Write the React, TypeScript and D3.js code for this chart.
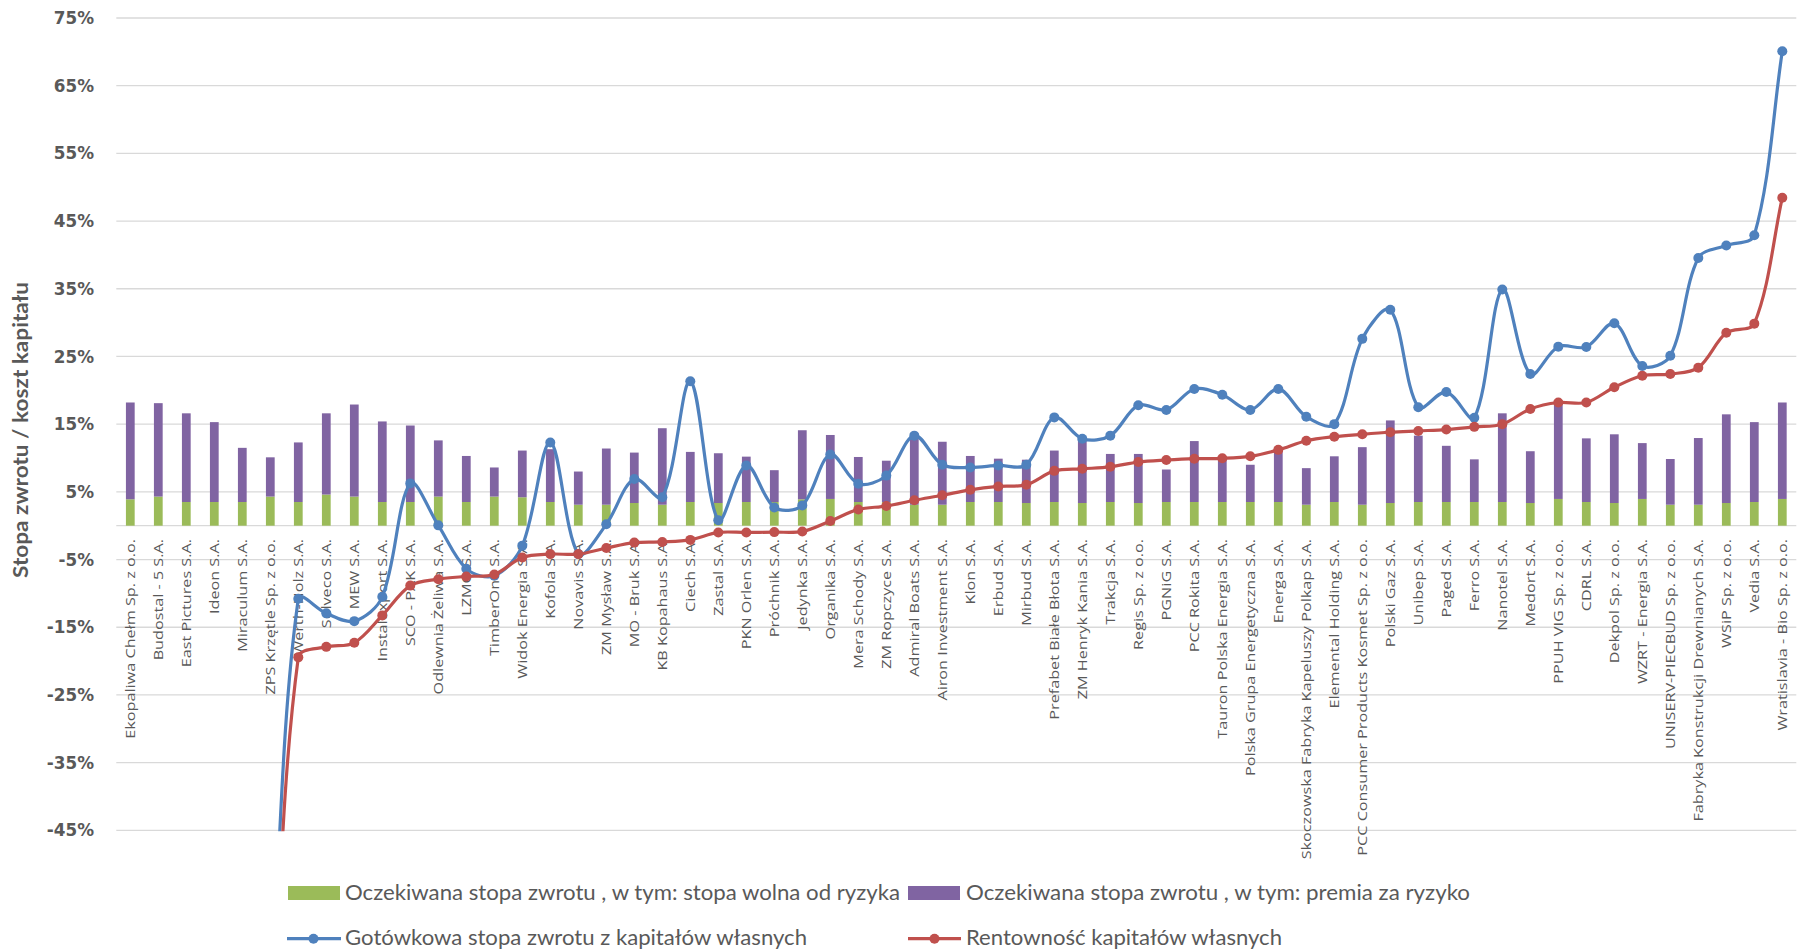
import React from "react";
import * as d3 from "d3";

const categories: string[] = [
  "Ekopaliwa Chełm Sp. z o.o.", "Budostal - 5 S.A.", "East Pictures S.A.", "Ideon S.A.", "Miraculum S.A.",
  "ZPS Krzętle Sp. z o.o.", "Werth-Holz S.A.", "Solveco S.A.", "MEW S.A.", "Instalexport S.A.",
  "SCO - PAK S.A.", "Odlewnia Żeliwa S.A.", "LZMO S.A.", "TimberOne S.A.", "Widok Energia S.A.",
  "Kofola S.A.", "Novavis S.A.", "ZM Mysław S.A.", "MO - Bruk S.A.", "KB Kopahaus S.A.",
  "Ciech S.A.", "Zastal S.A.", "PKN Orlen S.A.", "Próchnik S.A.", "Jedynka S.A.",
  "Organika S.A.", "Mera Schody S.A.", "ZM Ropczyce S.A.", "Admiral Boats S.A.", "Airon Investment S.A.",
  "Klon S.A.", "Erbud S.A.", "Mirbud S.A.", "Prefabet Białe Błota S.A.", "ZM Henryk Kania S.A.",
  "Trakcja S.A.", "Regis Sp. z o.o.", "PGNiG S.A.", "PCC Rokita S.A.", "Tauron Polska Energia S.A.",
  "Polska Grupa Energetyczna S.A.", "Energa S.A.", "Skoczowska Fabryka Kapeluszy Polkap S.A.", "Elemental Holding S.A.", "PCC Consumer Products Kosmet Sp. z o.o.",
  "Polski Gaz S.A.", "Unibep S.A.", "Paged S.A.", "Ferro S.A.", "Nanotel S.A.",
  "Medort S.A.", "PPUH VIG Sp. z o.o.", "CDRL S.A.", "Dekpol Sp. z o.o.", "WZRT - Energia S.A.",
  "UNISERV-PIECBUD Sp. z o.o.", "Fabryka Konstrukcji Drewnianych S.A.", "WSiP Sp. z o.o.", "Vedia S.A.", "Wratislavia - Bio Sp. z o.o.",
];

// Oczekiwana stopa zwrotu, w tym: stopa wolna od ryzyka (%)
const riskFree: number[] = [
  3.9, 4.3, 3.5, 3.5, 3.5, 4.3, 3.5, 4.6, 4.3, 3.5,
  3.5, 4.3, 3.5, 4.3, 4.2, 3.5, 3.1, 3.1, 3.35, 3.1,
  3.5, 3.35, 3.5, 3.5, 3.9, 3.95, 3.5, 3.5, 3.1, 3.1,
  3.5, 3.5, 3.35, 3.5, 3.35, 3.5, 3.35, 3.5, 3.5, 3.5,
  3.5, 3.5, 3.1, 3.5, 3.1, 3.35, 3.5, 3.5, 3.5, 3.5,
  3.35, 3.95, 3.5, 3.35, 3.95, 3.1, 3.1, 3.35, 3.5, 3.95,
];

// Oczekiwana stopa zwrotu, w tym: premia za ryzyko (%)
const riskPremium: number[] = [
  14.3, 13.8, 13.1, 11.8, 8.0, 5.8, 8.8, 12.0, 13.6, 11.9,
  11.3, 8.3, 6.8, 4.3, 6.9, 7.8, 4.9, 8.3, 7.45, 11.3,
  7.4, 7.35, 6.7, 4.7, 10.2, 9.45, 6.65, 6.1, 10.1, 9.3,
  6.8, 6.4, 6.4, 7.6, 9.45, 7.1, 7.25, 4.8, 9.0, 6.6,
  5.5, 7.8, 5.4, 6.75, 8.5, 12.2, 9.8, 8.3, 6.3, 13.1,
  7.65, 14.25, 9.4, 10.15, 8.25, 6.75, 9.85, 13.1, 11.8, 14.25,
];

// Gotówkowa stopa zwrotu z kapitałów własnych (%)
const cashReturn: (number | null)[] = [
  null, null, null, null, null, -72, -10.8, -12.95, -14.1, -10.5,
  6.25, 0.05, -6.35, -7.4, -2.95, 12.3, -4.2, 0.2, 6.9, 4.2,
  21.35, 0.8, 8.9, 2.7, 3.0, 10.5, 6.2, 7.4, 13.3, 9.0,
  8.6, 8.9, 9.0, 16.0, 12.85, 13.3, 17.8, 17.1, 20.2, 19.35,
  17.1, 20.2, 16.1, 15.0, 27.6, 31.9, 17.5, 19.75, 15.95, 34.9,
  22.4, 26.45, 26.4, 29.9, 23.6, 25.1, 39.55, 41.4, 42.9, 70.1,
];

// Rentowność kapitałów własnych (%)
const roe: (number | null)[] = [
  null, null, null, null, null, -80, -19.45, -17.9, -17.3, -13.25,
  -8.85, -7.9, -7.5, -7.2, -4.7, -4.2, -4.2, -3.3, -2.5, -2.4,
  -2.1, -1.0, -1.0, -0.95, -0.85, 0.7, 2.4, 2.9, 3.75, 4.5,
  5.3, 5.8, 6.05, 8.1, 8.4, 8.7, 9.4, 9.7, 9.9, 9.95,
  10.25, 11.2, 12.55, 13.15, 13.5, 13.8, 14.0, 14.2, 14.6, 15.0,
  17.25, 18.2, 18.2, 20.45, 22.15, 22.4, 23.35, 28.5, 29.85, 48.45,
];

const yTicks: number[] = [75, 65, 55, 45, 35, 25, 15, 5, -5, -15, -25, -35, -45];

const legendLabels: string[] = [
  "Oczekiwana stopa zwrotu , w tym: stopa wolna od ryzyka",
  "Oczekiwana stopa zwrotu , w tym: premia za ryzyko",
  "Gotówkowa stopa zwrotu z kapitałów własnych",
  "Rentowność kapitałów własnych",
];

const C_GREEN = "#9BBB59";
const C_PURPLE = "#8064A2";
const C_BLUE = "#4F81BD";
const C_RED = "#C0504D";
const C_GRID = "#D9D9D9";
const C_TEXT = "#595959";

const W = 1798;
const H = 951;
const PLOT = { left: 116.3, right: 1796.3, top: 18, bottom: 830.3 };
const MARKER_R = 5;
const LINE_W = 3.2;

type Pt = [number, number];

// Smoothed line in the style of spreadsheet "smooth line": Catmull-Rom tangents,
// control-point distances scaled by neighbouring segment lengths.
function smoothPath(pts: Pt[]): string {
  const p = d3.path();
  const n = pts.length;
  if (n === 0) return "";
  p.moveTo(pts[0][0], pts[0][1]);
  if (n === 1) return p.toString();
  const dist = (a: Pt, b: Pt) => Math.hypot(b[0] - a[0], b[1] - a[1]);
  const outC: Pt[] = [];
  const inC: Pt[] = [];
  for (let i = 0; i < n; i++) {
    const prev = i > 0 ? pts[i - 1] : pts[i];
    const next = i < n - 1 ? pts[i + 1] : pts[i];
    const dIn = dist(prev, pts[i]);
    const dOut = dist(pts[i], next);
    const s = dIn + dOut || 1;
    const tx = next[0] - prev[0];
    const ty = next[1] - prev[1];
    outC[i] = [pts[i][0] + (tx * dOut) / s / 3, pts[i][1] + (ty * dOut) / s / 3];
    inC[i] = [pts[i][0] - (tx * dIn) / s / 3, pts[i][1] - (ty * dIn) / s / 3];
  }
  for (let i = 0; i < n - 1; i++) {
    p.bezierCurveTo(outC[i][0], outC[i][1], inC[i + 1][0], inC[i + 1][1], pts[i + 1][0], pts[i + 1][1]);
  }
  return p.toString();
}

export default function App() {
  const x = d3.scaleBand<string>().domain(categories).range([PLOT.left, PLOT.right]).padding(0);
  const y = d3.scaleLinear().domain([-45, 75]).range([PLOT.bottom, PLOT.top]);
  const bw = x.bandwidth() * 0.3125;
  const cx = (i: number) => (x(categories[i]) as number) + x.bandwidth() / 2;

  const mkLine = (vals: (number | null)[]) => {
    const runs: Pt[][] = [];
    let cur: Pt[] = [];
    vals.forEach((v, i) => {
      if (v === null) {
        if (cur.length) runs.push(cur);
        cur = [];
      } else {
        cur.push([cx(i), y(v)]);
      }
    });
    if (cur.length) runs.push(cur);
    return runs.map(smoothPath).join(" ");
  };

  const series = [
    { vals: cashReturn, color: C_BLUE },
    { vals: roe, color: C_RED },
  ];

  const legendFont = "Lato, 'Open Sans', sans-serif";

  return (
    <svg
      width={W}
      height={H}
      style={{ position: "absolute", left: 0, top: 0, background: "#fff" }}
      xmlns="http://www.w3.org/2000/svg"
    >
      <defs>
        <clipPath id="plotClip">
          <rect x={PLOT.left - 10} y={PLOT.top - 10} width={PLOT.right - PLOT.left + 20} height={PLOT.bottom - PLOT.top + 11} />
        </clipPath>
      </defs>
      <rect x={0} y={0} width={W} height={H} fill="#fff" />

      {yTicks.map((t) => (
        <line key={"g" + t} x1={PLOT.left} x2={PLOT.right} y1={y(t)} y2={y(t)} stroke={C_GRID} strokeWidth={1.3} />
      ))}
      <line x1={PLOT.left} x2={PLOT.right} y1={y(0)} y2={y(0)} stroke={C_GRID} strokeWidth={1.3} />

      {yTicks.map((t) => (
        <text
          key={"t" + t}
          x={94}
          y={y(t)}
          dy="0.36em"
          textAnchor="end"
          fontFamily="'DejaVu Sans', Verdana, sans-serif"
          fontWeight="bold"
          fontSize={16.8}
          fill={C_TEXT}
        >
          {t + "%"}
        </text>
      ))}

      <text
        transform={`translate(21,430) rotate(-90)`}
        textAnchor="middle"
        dy="0.35em"
        fontFamily={legendFont}
        fontWeight="bold"
        fontSize={20}
        fill={C_TEXT}
        textLength={296}
        lengthAdjust="spacingAndGlyphs"
      >
        Stopa zwrotu / koszt kapitału
      </text>

      {categories.map((c, i) => (
        <g key={"b" + i}>
          <rect x={cx(i) - bw / 2} width={bw} y={y(riskFree[i])} height={y(0) - y(riskFree[i])} fill={C_GREEN} />
          <rect
            x={cx(i) - bw / 2}
            width={bw}
            y={y(riskFree[i] + riskPremium[i])}
            height={y(riskFree[i]) - y(riskFree[i] + riskPremium[i])}
            fill={C_PURPLE}
          />
        </g>
      ))}

      {categories.map((c, i) => (
        <text
          key={"c" + i}
          transform={`translate(${cx(i)},539) rotate(-90) scale(1.2,1)`}
          textAnchor="end"
          dy="0.36em"
          fontFamily="'Open Sans', sans-serif"
          fontSize={13.5}
          fill={C_TEXT}
        >
          {c}
        </text>
      ))}

      <g clipPath="url(#plotClip)">
        {series.map((s, k) => (
          <g key={"s" + k}>
            <path d={mkLine(s.vals)} fill="none" stroke={s.color} strokeWidth={LINE_W} strokeLinejoin="round" />
            {s.vals.map((v, i) =>
              v === null || v < -45 ? null : <circle key={i} cx={cx(i)} cy={y(v)} r={MARKER_R} fill={s.color} />
            )}
          </g>
        ))}
      </g>

      <g>
        <rect x={288} y={886} width={52} height={14} fill={C_GREEN} />
        <text x={345} y={900} fontFamily={legendFont} fontSize={21} fill={C_TEXT} textLength={555} lengthAdjust="spacingAndGlyphs">
          {legendLabels[0]}
        </text>
        <rect x={908} y={886} width={52} height={14} fill={C_PURPLE} />
        <text x={966} y={900} fontFamily={legendFont} fontSize={21} fill={C_TEXT} textLength={504} lengthAdjust="spacingAndGlyphs">
          {legendLabels[1]}
        </text>

        <line x1={287} x2={341} y1={938.7} y2={938.7} stroke={C_BLUE} strokeWidth={LINE_W} />
        <circle cx={313.5} cy={938.7} r={MARKER_R} fill={C_BLUE} />
        <text x={345} y={945} fontFamily={legendFont} fontSize={21} fill={C_TEXT} textLength={462} lengthAdjust="spacingAndGlyphs">
          {legendLabels[2]}
        </text>
        <line x1={908} x2={961} y1={938.7} y2={938.7} stroke={C_RED} strokeWidth={LINE_W} />
        <circle cx={934.5} cy={938.7} r={MARKER_R} fill={C_RED} />
        <text x={966} y={945} fontFamily={legendFont} fontSize={21} fill={C_TEXT} textLength={316} lengthAdjust="spacingAndGlyphs">
          {legendLabels[3]}
        </text>
      </g>
    </svg>
  );
}
